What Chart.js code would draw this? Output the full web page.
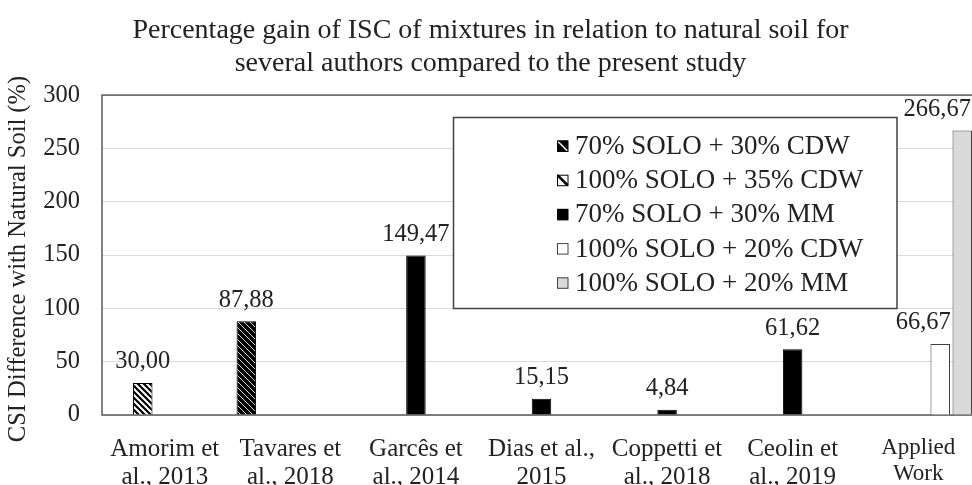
<!DOCTYPE html>
<html>
<head>
<meta charset="utf-8">
<script src="https://cdn.jsdelivr.net/npm/chart.js@4.4.1/dist/chart.umd.min.js"></script>
<style>
  html, body { margin: 0; padding: 0; overflow: hidden; background: #fff; width: 972px; height: 485px; }
  canvas { display: block; }
</style>
</head>
<body>
<canvas id="c" width="981" height="485"></canvas>
<script>
// ---- data ----
const categories = [
  ['Amorim et', 'al., 2013'],
  ['Tavares et', 'al., 2018'],
  ['Garcês et', 'al., 2014'],
  ['Dias et al.,', '2015'],
  ['Coppetti et', 'al., 2018'],
  ['Ceolin et', 'al., 2019'],
  ['Applied', 'Work']
];
const seriesNames = [
  '70% SOLO + 30% CDW',
  '100% SOLO + 35% CDW',
  '70% SOLO + 30% MM',
  '100% SOLO + 20% CDW',
  '100% SOLO + 20% MM'
];
const solo70cdw30 = [null, 87.88, null, null, null, null, null];
const solo100cdw35 = [30.00, null, null, null, null, null, null];
const solo70mm30 = [null, null, 149.47, 15.15, 4.84, 61.62, null];
const solo100cdw20 = [null, null, null, null, null, null, 66.67];
const solo100mm20 = [null, null, null, null, null, null, 266.67];
const yTicks = [0, 50, 100, 150, 200, 250, 300];
const titleLines = [
  'Percentage gain of ISC of mixtures in relation to natural soil for',
  'several authors compared to the present study'
];
const yTitle = 'CSI Difference with Natural Soil (%)';

// ---- patterns ----
function hatch(bg, fg, lw, size) {
  const c = document.createElement('canvas');
  c.width = size; c.height = size;
  const g = c.getContext('2d');
  g.fillStyle = bg; g.fillRect(0, 0, size, size);
  g.strokeStyle = fg; g.lineWidth = lw;
  g.beginPath();
  g.moveTo(-size, -size); g.lineTo(2 * size, 2 * size);
  g.moveTo(-size, 0); g.lineTo(size, 2 * size);
  g.moveTo(0, -size); g.lineTo(2 * size, size);
  g.stroke();
  return g.createPattern(c, 'repeat');
}
const ctx = document.getElementById('c').getContext('2d');
const patDark = hatch('#000', '#d8d8d8', 1.0, 6);
const patLight = hatch('#fff', '#000', 2.2, 6);

const FONT = '"Liberation Serif", "Times New Roman", serif';

const fills = [patDark, patLight, '#000000', '#ffffff', '#d9d9d9'];
const borders = ['#000', '#000', '#000', '#404040', '#404040'];
// legend swatch look: [background, diagonal stroke colour, stroke width]
const swatchHatch = [['#000', '#e0e0e0', 1.6], ['#fff', '#000', 2.6], null, null, null];
const seriesData = [solo70cdw30, solo100cdw35, solo70mm30, solo100cdw20, solo100mm20];

const datasets = seriesData.map((d, i) => ({
  label: seriesNames[i],
  data: d,
  backgroundColor: fills[i],
  borderColor: borders[i],
  borderWidth: 1,
  categoryPercentage: 0.877,
  barPercentage: 0.886
}));

const fmt = v => v.toFixed(2).replace('.', ',');

const framePlugin = {
  id: 'frame',
  beforeDatasetsDraw(chart) {
    const a = chart.chartArea, g = chart.ctx;
    g.save();
    g.strokeStyle = '#595959'; g.lineWidth = 1.5;
    g.strokeRect(a.left, a.top, a.right - a.left, a.bottom - a.top);
    g.restore();
  },
  afterDraw(chart) {
    const a = chart.chartArea, g = chart.ctx;
    g.save();
    g.font = '24.5px ' + FONT;
    g.fillStyle = '#222';
    g.textAlign = 'center';
    g.textBaseline = 'middle';
    g.translate(19, (a.top + a.bottom) / 2 + 4);
    g.rotate(-Math.PI / 2);
    g.fillText(yTitle, 0, 0);
    g.restore();
  }
};

const labelShift = { '3-6': -17, '4-6': -25 };
const valueLabels = {
  id: 'valueLabels',
  afterDatasetsDraw(chart) {
    const g = chart.ctx;
    g.save();
    g.font = '24.5px ' + FONT;
    g.fillStyle = '#222';
    g.textAlign = 'center';
    g.textBaseline = 'middle';
    chart.data.datasets.forEach((ds, di) => {
      const meta = chart.getDatasetMeta(di);
      meta.data.forEach((el, i) => {
        const v = ds.data[i];
        if (v === null || v === undefined) return;
        const sh = labelShift[di + '-' + i] || 0;
        g.fillText(fmt(v), el.x + sh, el.y - 21);
      });
    });
    g.restore();
  }
};

const legendBox = {
  id: 'legendBox',
  afterDraw(chart) {
    const g = chart.ctx;
    g.save();
    g.fillStyle = '#fff';
    g.fillRect(453.5, 117.5, 443.5, 191);
    g.strokeStyle = '#404040'; g.lineWidth = 1.5;
    g.strokeRect(453.5, 117.5, 443.5, 191);
    g.font = '27px ' + FONT;
    g.textBaseline = 'middle';
    g.textAlign = 'left';
    chart.data.datasets.forEach((ds, i) => {
      const y = 146 + i * 34.2;
      const x0 = 557, s = 11;
      const h = swatchHatch[i];
      g.save();
      if (h) {
        g.fillStyle = h[0];
        g.fillRect(x0, y - 5.5, s, s);
        g.beginPath(); g.rect(x0, y - 5.5, s, s); g.clip();
        g.strokeStyle = h[1]; g.lineWidth = h[2];
        g.beginPath();
        g.moveTo(x0 - 1, y - 6.5); g.lineTo(x0 + s + 1, y + 6.5);
        g.stroke();
      } else {
        g.fillStyle = ds.backgroundColor;
        g.fillRect(x0, y - 5.5, s, s);
      }
      g.restore();
      g.strokeStyle = i < 3 ? '#000' : '#404040'; g.lineWidth = 1;
      g.strokeRect(x0 + 0.5, y - 5, s - 0.5, s - 0.5);
      g.fillStyle = '#222';
      g.fillText(ds.label, 575, y + 1);
    });
    g.restore();
  }
};

new Chart(ctx, {
  type: 'bar',
  data: { labels: categories, datasets },
  plugins: [framePlugin, valueLabels, legendBox],
  options: {
    responsive: false,
    animation: false,
    layout: { padding: { left: 0, right: 0, top: 0, bottom: 0 } },
    plugins: {
      legend: { display: false },
      tooltip: { enabled: false },
      title: {
        display: true,
        text: titleLines,
        color: '#222',
        font: { family: FONT, size: 28, weight: 'normal', lineHeight: 1.18 },
        padding: { top: 14, bottom: 15 }
      }
    },
    scales: {
      x: {
        grid: { display: false },
        border: { display: false },
        ticks: {
          color: '#222',
          maxRotation: 0,
          autoSkip: false,
          padding: 12,
          font: c2 => ({ family: FONT, size: c2.index === 6 ? 23 : 25, lineHeight: 1.12 })
        },
        afterFit: s => { s.height = 70; }
      },
      y: {
        min: 0, max: 300,
        afterBuildTicks: s => { s.ticks = yTicks.map(v => ({ value: v })); },
        grid: { color: '#d9d9d9', lineWidth: 1, drawTicks: false },
        border: { display: false },
        ticks: {
          color: '#222',
          padding: 22,
          font: { family: FONT, size: 24.5 }
        },
        afterFit: s => { s.width = 102; }
      }
    }
  }
});
</script>
</body>
</html>
